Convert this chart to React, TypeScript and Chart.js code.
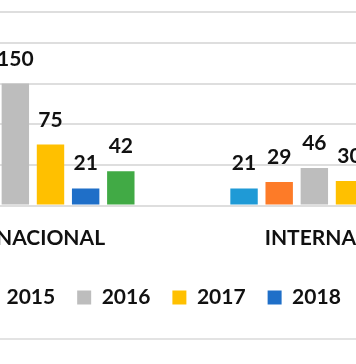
import { useEffect, useRef } from "react";
import { Chart, registerables } from "chart.js";

Chart.register(...registerables);

// ---- data ----
const categories = ["NACIONAL", "INTERNACIONAL"];
const seriesNames = ["2014", "2015", "2016", "2017", "2018", "2019", "2020"];
const values2014 = [112, 21];
const values2015 = [130, 29];
const values2016 = [150, 46];
const values2017 = [75, 30];
const values2018 = [21, 14];
const values2019 = [42, 22];
const values2020: (number | null)[] = [null, null];
const seriesColors = ["#1f9ad6", "#fd7b28", "#bdbdbd", "#ffc000", "#1f6fc8", "#41aa45", "#255e91"];
const yTicksMax = 238;
const yStep = 50;

const FONT = "Lato";

const barLabels = {
  id: "barLabels",
  afterDatasetsDraw(chart: any) {
    const ctx = chart.ctx;
    ctx.save();
    ctx.font = `bold 21px ${FONT}`;
    ctx.fillStyle = "#111";
    ctx.textAlign = "center";
    ctx.textBaseline = "alphabetic";
    chart.data.datasets.forEach((ds: any, i: number) => {
      const meta = chart.getDatasetMeta(i);
      meta.data.forEach((el: any, j: number) => {
        const v = ds.data[j];
        if (v == null) return;
        ctx.fillText(String(v), el.x, el.y - 18);
      });
    });
    ctx.restore();
  },
};

export default function App() {
  const ref = useRef<HTMLCanvasElement | null>(null);

  useEffect(() => {
    if (!ref.current) return;
    const allValues = [values2014, values2015, values2016, values2017, values2018, values2019, values2020];
    const chart = new Chart(ref.current, {
      type: "bar",
      data: {
        labels: categories,
        datasets: seriesNames.map((name, i) => ({
          label: name,
          data: allValues[i] as any,
          backgroundColor: seriesColors[i],
          borderWidth: 0,
        })),
      },
      options: {
        responsive: false,
        animation: false,
        layout: { padding: { top: 12, left: 0, right: 0, bottom: 0 } },
        datasets: { bar: { categoryPercentage: 0.823, barPercentage: 0.78 } } as any,
        plugins: {
          legend: {
            position: "bottom",
            labels: {
              boxWidth: 14,
              boxHeight: 14,
              padding: 22,
              color: "#111",
              font: { family: FONT, size: 21, weight: "bold" },
            },
          },
          tooltip: { enabled: false },
        },
        scales: {
          x: {
            grid: { display: false, drawTicks: false },
            border: { display: false },
            ticks: { padding: 20, color: "#111", font: { family: FONT, size: 21, weight: "bold" }, maxRotation: 0 },
            afterFit: (s: any) => {
              s.height = 59.5;
            },
          },
          y: {
            position: "left",
            min: 0,
            max: yTicksMax,
            ticks: { stepSize: yStep, display: false },
            grid: { color: "#dedede", lineWidth: 2, drawTicks: false },
            border: { display: false },
            afterFit: (s: any) => {
              s.width = 47;
            },
          },
          yRight: {
            type: "linear",
            position: "right",
            ticks: { display: false },
            grid: { display: false, drawTicks: false },
            border: { display: false },
            afterFit: (s: any) => {
              s.width = 65;
            },
          },
        } as any,
      },
      plugins: [barLabels],
    });
    return () => chart.destroy();
  }, []);

  return (
    <div
      style={{
        position: "fixed",
        left: 0,
        top: 0,
        width: 356,
        height: 364,
        overflow: "hidden",
        background: "#fff",
      }}
    >
      <canvas ref={ref} width={710} height={318} style={{ position: "absolute", left: -146, top: 0 }} />
      <div style={{ position: "absolute", left: 0, top: 338, width: 356, height: 2, background: "#e3e3e3" }} />
    </div>
  );
}
